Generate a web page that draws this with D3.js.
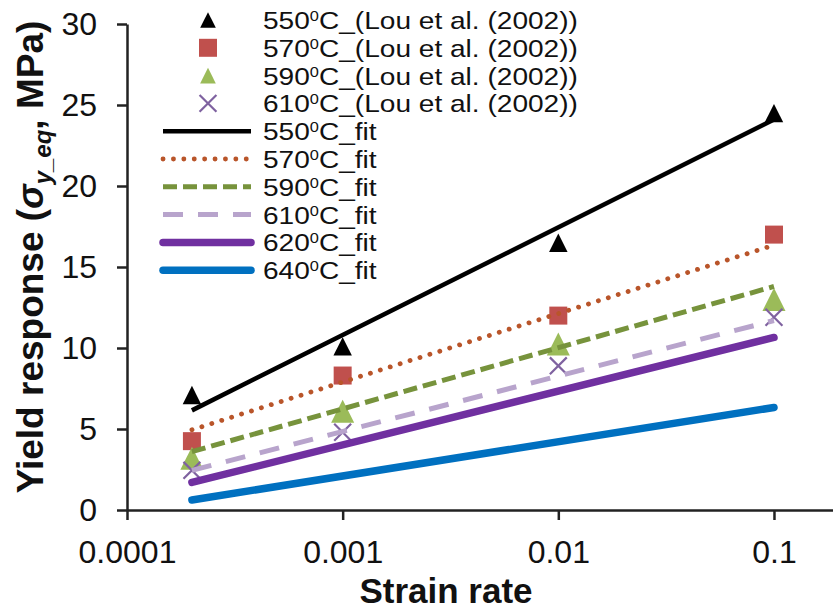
<!DOCTYPE html>
<html>
<head>
<meta charset="utf-8">
<script src="https://d3js.org/d3.v7.min.js"></script>
<style>
  html, body { margin: 0; padding: 0; background: #fff; }
  svg { display: block; font-family: "Liberation Sans", Arial, sans-serif; }
</style>
</head>
<body>
<svg id="chart" width="833" height="613"></svg>
<script>
// ---- data ----
const strainRates = [0.0002, 0.001, 0.01, 0.1];
const xTickValues = [0.0001, 0.001, 0.01, 0.1];
const xTickLabels = ["0.0001", "0.001", "0.01", "0.1"];
const yTickValues = [0, 5, 10, 15, 20, 25, 30];

const exp550 = [7.1, 10.1, 16.5, 24.5];
const exp570 = [4.25, 8.3, 12.0, 17.0];
const exp590 = [3.2, 6.1, 10.25, 13.0];
const exp610 = [2.45, 4.8, 8.9, 11.9];

const fitRates = [0.0002, 0.1];
const fit550 = [6.15, 24.1];
const fit570 = [4.95, 16.35];
const fit590 = [3.6, 13.8];
const fit610 = [2.45, 11.7];
const fit620 = [1.7, 10.65];
const fit640 = [0.62, 6.33];

const expSeries = [
  {label: "550", values: exp550, shape: "triangle", color: "#000000", w: 20},
  {label: "570", values: exp570, shape: "square", color: "#C0504D", w: 18},
  {label: "590", values: exp590, shape: "triangle", color: "#9BBB59", w: 25},
  {label: "610", values: exp610, shape: "cross", color: "#7F62A0", w: 17}
];
const fitSeries = [
  {label: "550", values: fit550, color: "#000000", width: 4.5, dash: null, cap: "butt"},
  {label: "570", values: fit570, color: "#B9552A", width: 4.8, dash: "0.1 10.3", cap: "round"},
  {label: "590", values: fit590, color: "#77933C", width: 5, dash: "14 6", cap: "butt"},
  {label: "610", values: fit610, color: "#B8A4CC", width: 5, dash: "20 15", cap: "butt"},
  {label: "620", values: fit620, color: "#7030A0", width: 7.5, dash: null, cap: "round"},
  {label: "640", values: fit640, color: "#0070C0", width: 7.5, dash: null, cap: "round"}
];

// ---- scales ----
const svg = d3.select("#chart");
const x = d3.scaleLog().domain([0.0001, 0.1878]).range([127, 833]);
const y = d3.scaleLinear().domain([0, 30]).range([510, 24]);

// ---- axes ----
const xAxis = d3.axisBottom(x).tickValues(xTickValues)
  .tickFormat((d, i) => xTickLabels[i]).tickSize(10).tickSizeOuter(0).tickPadding(20);
const gx = svg.append("g").attr("transform", "translate(0,510)").call(xAxis);
gx.selectAll("text").attr("font-size", 32).attr("fill", "#111").attr("font-family", "Liberation Sans, Arial, sans-serif");

const yAxis = d3.axisLeft(y).tickValues(yTickValues).tickSize(10).tickSizeOuter(0).tickPadding(20);
const gy = svg.append("g").attr("transform", "translate(127,0)").call(yAxis);
gy.selectAll("text").attr("font-size", 32).attr("fill", "#111").attr("font-family", "Liberation Sans, Arial, sans-serif");

[gx, gy].forEach(g => {
  g.select(".domain").attr("stroke", "#222").attr("stroke-width", 2.5);
  g.selectAll(".tick line").attr("stroke", "#222").attr("stroke-width", 2.5);
});

// ---- axis titles ----
svg.append("text").attr("x", 446).attr("y", 603).attr("text-anchor", "middle")
  .attr("font-size", 35).attr("font-weight", "bold").attr("fill", "#111").text("Strain rate");

const yt = svg.append("text").attr("transform", "translate(43,257) rotate(-90)")
  .attr("text-anchor", "middle").attr("font-size", 37).attr("font-weight", "bold").attr("fill", "#111");
yt.append("tspan").text("Yield response (");
yt.append("tspan").attr("font-style", "italic").text("σ");
yt.append("tspan").attr("font-style", "italic").attr("font-size", 24).attr("dy", 8).text("y_eq");
yt.append("tspan").attr("dy", -8).text(", MPa)");

// ---- markers ----
// isosceles triangle whose bounding box (width = height) is centred on the point
const boxTriangle = {
  draw(ctx, size) {
    const h = Math.sqrt(size) / 2;
    ctx.moveTo(0, -h);
    ctx.lineTo(h, h);
    ctx.lineTo(-h, h);
    ctx.closePath();
  }
};
function symbolFor(s) {
  if (s.shape === "triangle") return d3.symbol().type(boxTriangle).size(s.w * s.w * 0.85)();
  if (s.shape === "square") return d3.symbol().type(d3.symbolSquare).size(s.w * s.w)();
  return d3.symbol().type(d3.symbolTimes).size(s.w * s.w * 0.65)();
}
function styleMarker(sel, s) {
  if (s.shape === "cross") sel.attr("fill", "none").attr("stroke", s.color).attr("stroke-width", 2.2);
  else sel.attr("fill", s.color).attr("stroke", "none");
}

expSeries.forEach(s => {
  const g = svg.append("g");
  g.selectAll("path").data(s.values).join("path")
    .attr("d", symbolFor(s))
    .attr("transform", (d, i) => `translate(${x(strainRates[i])},${y(d)})`)
    .call(sel => styleMarker(sel, s));
});

// ---- fit lines ----
const line = d3.line().x((d, i) => x(fitRates[i])).y(d => y(d));
fitSeries.forEach(s => {
  svg.append("path").datum(s.values).attr("d", line)
    .attr("fill", "none").attr("stroke", s.color).attr("stroke-width", s.width)
    .attr("stroke-linecap", s.cap).attr("stroke-dasharray", s.dash);
});

// ---- legend ----
const legendRow0 = 20, legendStep = 27.8, legendTextX = 263;
const leg = svg.append("g").attr("font-size", 24).attr("fill", "#111");
function legendLabel(yy, temp, suffix) {
  const t = leg.append("text").attr("transform", `translate(${legendTextX},${yy + 9}) scale(1.17,1)`);
  t.append("tspan").text(temp);
  t.append("tspan").attr("font-size", 14).attr("dy", -8).text("0");
  t.append("tspan").attr("dy", 8).text("C" + suffix);
}
expSeries.forEach((s, i) => {
  const yy = legendRow0 + i * legendStep;
  const ls = Object.assign({}, s, {w: s.shape === "triangle" ? 17 : s.w});
  leg.append("path").attr("d", symbolFor(ls))
    .attr("transform", `translate(208,${yy})`)
    .call(sel => styleMarker(sel, s));
  legendLabel(yy, s.label, "_(Lou et al. (2002))");
});
fitSeries.forEach((s, i) => {
  const yy = legendRow0 + (i + 4) * legendStep;
  leg.append("line").attr("x1", 163).attr("x2", 251).attr("y1", yy).attr("y2", yy)
    .attr("stroke", s.color).attr("stroke-width", s.width)
    .attr("stroke-linecap", s.cap).attr("stroke-dasharray", s.dash);
  legendLabel(yy, s.label, "_fit");
});
</script>
</body>
</html>
